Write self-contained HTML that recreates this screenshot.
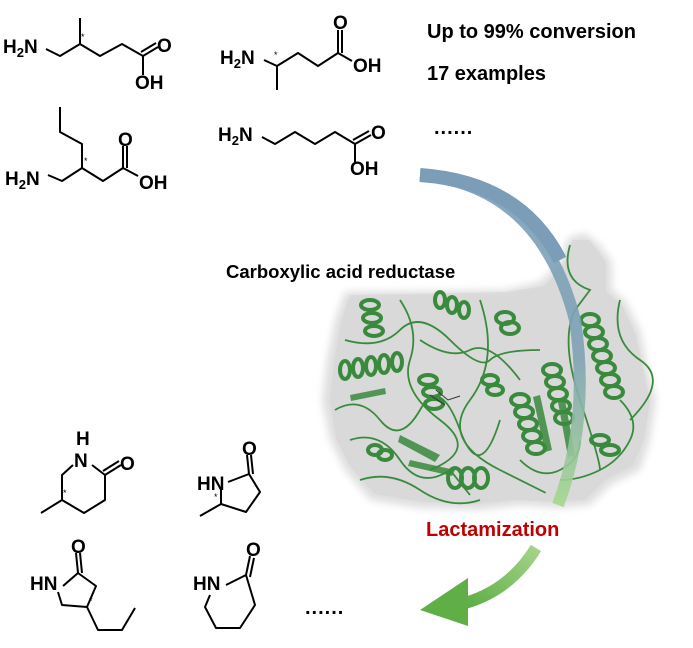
<!DOCTYPE html>
<html><head><meta charset="utf-8"><style>
html,body{margin:0;padding:0;background:#fff}
svg{display:block}
.b{stroke:#000;stroke-width:2;fill:none;stroke-linejoin:round}
.t{font-family:"Liberation Sans",Arial,sans-serif;font-weight:bold;fill:#000}
.a{font-family:"Liberation Sans",Arial,sans-serif;font-size:19px;font-weight:bold;fill:#000}
.s{font-family:"Liberation Sans",Arial,sans-serif;font-size:9px;fill:#000}
.h{fill:none;stroke:#3a8a3e;stroke-width:4}
.l{fill:none;stroke:#3a8a3e;stroke-width:1.8}
</style></head><body>
<svg width="693" height="648" viewBox="0 0 693 648" xmlns="http://www.w3.org/2000/svg">
<defs>
<linearGradient id="ga" x1="0" y1="0" x2="0" y2="1">
<stop offset="0" stop-color="#7a9db8"/><stop offset="0.55" stop-color="#7ea2b5"/><stop offset="1" stop-color="#a5d88e"/>
</linearGradient>
<linearGradient id="gb" x1="1" y1="0" x2="0" y2="1">
<stop offset="0" stop-color="#a4d48a"/><stop offset="1" stop-color="#5fae46"/>
</linearGradient>
<filter id="bl"><feGaussianBlur stdDeviation="4"/></filter>
</defs>

<!-- top-left molecule -->
<text class="a" x="3" y="53">H<tspan font-size="13" dy="4">2</tspan><tspan dy="-4">N</tspan></text>
<path class="b" d="M46,49 L60,56 L80,44 L100,56 L122,44 L143,56 M80,44 L80,18 M143,56 L143,75 M143,56 L158,47 M141,52 L156,43"/>
<text class="s" x="81" y="40">*</text>
<text class="a" x="157" y="52">O</text>
<text class="a" x="135" y="89">OH</text>

<!-- top middle molecule -->
<text class="a" x="220" y="64">H<tspan font-size="13" dy="4">2</tspan><tspan dy="-4">N</tspan></text>
<path class="b" d="M264,60 L277,66 L277,90 M277,66 L298,53 L318,66 L338,53 L338,30 M342,53 L342,30 M338,53 L352,61"/>
<text class="s" x="274" y="58">*</text>
<text class="a" x="333" y="29">O</text>
<text class="a" x="353" y="72">OH</text>

<!-- bottom-left acid -->
<path class="b" d="M60,107 L60,132 L82,144 L82,168 M48,175 L62,181 L82,168 L103,181 L123,168 L123,146 M127,168 L127,146 M123,168 L138,176"/>
<text class="a" x="5" y="185">H<tspan font-size="13" dy="4">2</tspan><tspan dy="-4">N</tspan></text>
<text class="s" x="84" y="164">*</text>
<text class="a" x="118" y="146">O</text>
<text class="a" x="139" y="189">OH</text>

<!-- bottom middle acid -->
<text class="a" x="218" y="141">H<tspan font-size="13" dy="4">2</tspan><tspan dy="-4">N</tspan></text>
<path class="b" d="M262,137 L275,144 L295,132 L315,144 L335,132 L355,144 L355,162 M355,144 L371,135 M353,140 L369,131"/>
<text class="a" x="371" y="139">O</text>
<text class="a" x="350" y="175">OH</text>

<!-- top right text -->
<text class="t" x="427" y="38" font-size="20">Up to 99% conversion</text>
<text class="t" x="427" y="80" font-size="20">17 examples</text>
<text class="t" x="434" y="134" font-size="20" letter-spacing="1">......</text>

<!-- protein blob -->
<path d="M345,292 L505,290 L540,282 L560,262 L568,238 L585,233 L600,245 L612,262 L612,290 L625,300 L640,330 L648,370 L656,400 L650,440 L640,470 L610,485 L590,505 L560,508 L520,505 L480,510 L420,508 L370,500 L345,470 L330,440 L322,400 L327,360 L335,320 Z" fill="#dedede" filter="url(#bl)"/>
<path d="M350,295 L505,292 L545,286 L566,260 L572,240 L590,240 L606,262 L606,292 L622,305 L636,335 L644,372 L650,402 L644,440 L632,466 L605,480 L585,500 L555,502 L515,500 L475,504 L422,502 L375,494 L350,466 L336,438 L330,400 L334,362 L341,322 Z" fill="#d6d6d6" opacity="0.6"/>

<!-- helices -->
<g class="h">
<ellipse cx="370" cy="305" rx="9" ry="5"/><ellipse cx="372" cy="318" rx="9" ry="5"/><ellipse cx="374" cy="331" rx="9" ry="5"/>
<ellipse cx="345" cy="370" rx="5" ry="9"/><ellipse cx="358" cy="368" rx="5" ry="9"/><ellipse cx="371" cy="366" rx="5" ry="9"/><ellipse cx="384" cy="364" rx="5" ry="9"/><ellipse cx="397" cy="362" rx="5" ry="9"/>
<ellipse cx="428" cy="380" rx="9" ry="5"/><ellipse cx="432" cy="392" rx="9" ry="5"/><ellipse cx="434" cy="404" rx="9" ry="5"/>
<ellipse cx="440" cy="300" rx="5" ry="8"/><ellipse cx="452" cy="305" rx="5" ry="8"/><ellipse cx="464" cy="310" rx="5" ry="8"/>
<ellipse cx="505" cy="318" rx="9" ry="6"/><ellipse cx="510" cy="328" rx="9" ry="6"/>
<ellipse cx="520" cy="400" rx="9" ry="6"/><ellipse cx="524" cy="412" rx="9" ry="6"/><ellipse cx="528" cy="424" rx="9" ry="6"/><ellipse cx="532" cy="436" rx="9" ry="6"/><ellipse cx="536" cy="448" rx="9" ry="6"/>
<ellipse cx="552" cy="370" rx="9" ry="6"/><ellipse cx="555" cy="382" rx="9" ry="6"/><ellipse cx="558" cy="394" rx="9" ry="6"/><ellipse cx="561" cy="406" rx="9" ry="6"/><ellipse cx="564" cy="418" rx="9" ry="6"/>
<ellipse cx="590" cy="320" rx="9" ry="6"/><ellipse cx="594" cy="332" rx="9" ry="6"/><ellipse cx="598" cy="344" rx="9" ry="6"/><ellipse cx="602" cy="356" rx="9" ry="6"/><ellipse cx="606" cy="368" rx="9" ry="6"/><ellipse cx="610" cy="380" rx="9" ry="6"/><ellipse cx="614" cy="392" rx="9" ry="6"/>
<ellipse cx="455" cy="478" rx="7" ry="10"/><ellipse cx="468" cy="478" rx="7" ry="10"/><ellipse cx="481" cy="478" rx="7" ry="10"/>
<ellipse cx="375" cy="450" rx="7" ry="5"/><ellipse cx="385" cy="455" rx="7" ry="5"/>
<ellipse cx="490" cy="380" rx="8" ry="5"/><ellipse cx="495" cy="390" rx="8" ry="5"/>
<ellipse cx="600" cy="440" rx="9" ry="5"/><ellipse cx="610" cy="450" rx="9" ry="5"/>
</g>
<g class="l">
<path d="M335,410 Q360,395 380,420 T420,410 T460,430 T500,420"/>
<path d="M350,440 Q380,430 400,460 T450,470 L470,495"/>
<path d="M400,300 Q420,330 410,360 T440,420 T430,470"/>
<path d="M480,300 Q500,360 470,400 T500,470 T540,490"/>
<path d="M570,245 Q560,280 590,290 L575,310 Q560,340 580,400 T600,470"/>
<path d="M620,400 Q640,420 630,440 T600,470 T560,480"/>
<path d="M345,340 Q380,350 400,330 T450,340 T490,360 T540,350"/>
<path d="M520,460 Q540,480 560,470 T580,440"/>
<path d="M360,480 Q390,470 420,490 T480,500"/>
<path d="M620,300 Q610,340 640,360 T630,420"/>
<path d="M420,340 Q450,360 470,350 T520,380"/>
</g>
<g fill="#3a8a3e" opacity="0.85">
<path d="M400,435 L440,455 L435,462 L398,442 Z"/>
<path d="M410,460 L455,470 L452,476 L408,466 Z"/>
<path d="M540,395 L552,450 L545,452 L533,397 Z"/>
<path d="M565,400 L575,455 L568,457 L558,402 Z"/>
<path d="M350,395 L385,388 L386,394 L351,401 Z"/>
</g>
<path d="M430,395 L445,405 M436,390 L448,400 L460,396" stroke="#333" stroke-width="1" fill="none"/>

<!-- arrows -->
<path d="M420,175 Q540,185 575,320 Q590,420 558,505" fill="none" stroke="url(#ga)" stroke-width="12" opacity="0.9"/>
<path d="M420,175 Q520,182 560,260" fill="none" stroke="#7b9db7" stroke-width="14"/>
<path d="M536,548 Q510,590 465,603" fill="none" stroke="url(#gb)" stroke-width="12"/>
<path d="M420,610 L468,578 L468,626 Z" fill="#5fae46"/>

<text class="t" x="226" y="278" font-size="18.5">Carboxylic acid reductase</text>
<text class="t" x="426" y="536" font-size="20" style="fill:#c00000">Lactamization</text>

<!-- bottom lactams -->
<text class="a" x="76" y="445">H</text>
<text class="a" x="74" y="467">N</text>
<path class="b" d="M73,465 L62,475 L62,500 L84,513 L105,500 L105,475 L92,465 M105,475 L121,465 M103,471 L119,461 M62,500 L41,513"/>
<text class="a" x="120" y="470">O</text>
<text class="s" x="63" y="496">*</text>

<text class="a" x="197" y="490">HN</text>
<path class="b" d="M228,482 L249,474 L260,492 L246,512 L221,504 L221,490 M249,474 L247,455 M253,474 L251,455 M221,504 L200,516"/>
<text class="a" x="242" y="455">O</text>
<text class="s" x="214" y="500">*</text>

<text class="a" x="30" y="590">HN</text>
<path class="b" d="M63,586 L78,573 L96,586 L87,607 L62,605 L58,592 M78,573 L76,553 M82,573 L80,553 M87,607 L98,630 L122,630 L135,608"/>
<text class="a" x="71" y="553">O</text>
<text class="s" x="89" y="604">*</text>

<text class="a" x="193" y="590">HN</text>
<path class="b" d="M226,585 L246,575 L255,605 L240,628 L216,628 L205,607 L210,595 M246,575 L250,556 M250,577 L254,558"/>
<text class="a" x="246" y="556">O</text>

<text class="t" x="305" y="614" font-size="20" letter-spacing="1">......</text>
</svg>
</body></html>
